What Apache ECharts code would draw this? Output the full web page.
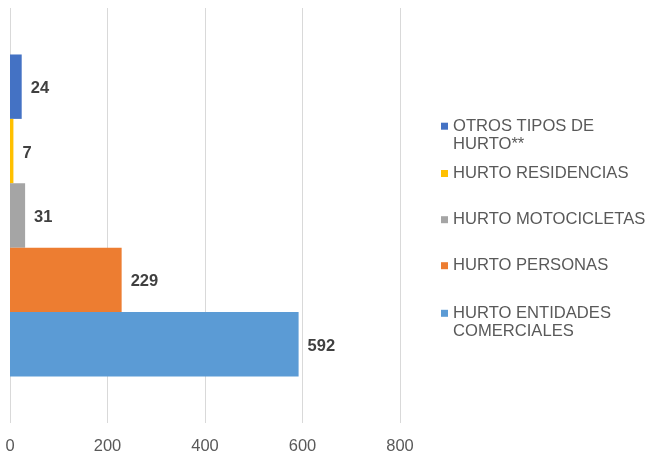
<!DOCTYPE html>
<html>
<head>
<meta charset="utf-8">
<style>
  html, body { margin: 0; padding: 0; background: #ffffff; }
  #chart { width: 647px; height: 456px; }
</style>
<script src="https://cdn.jsdelivr.net/npm/echarts@6/dist/echarts.min.js"></script>
</head>
<body>
<div id="chart"></div>
<script>
// Series names (legend order, top to bottom)
const seriesNames = [
  'OTROS TIPOS DE\nHURTO**',
  'HURTO RESIDENCIAS',
  'HURTO MOTOCICLETAS',
  'HURTO PERSONAS',
  'HURTO ENTIDADES\nCOMERCIALES'
];
const seriesValues = [24, 7, 31, 229, 592];
const seriesColors = ['#4472C4', '#FFC000', '#A5A5A5', '#ED7D31', '#5B9BD5'];
const xTicks = [0, 200, 400, 600, 800];
const legendTops = [99.2, 164.5, 210.7, 256.7, 286.3];

const FONT = 'Liberation Sans, Arial, sans-serif';
const chart = echarts.init(document.getElementById('chart'), null, { renderer: 'canvas' });

const series = seriesNames.map((name, i) => ({
  name: name,
  type: 'bar',
  data: [seriesValues[i]],
  barGap: 0,
  barCategoryGap: '22.4%',
  itemStyle: { color: seriesColors[i] },
  label: {
    show: true,
    position: 'right',
    distance: 9,
    offset: [0, 2],
    color: '#404040',
    fontWeight: 'bold',
    fontSize: 16.5,
    fontFamily: FONT
  }
}));

const legends = seriesNames.map((name, i) => {
  const twoLine = name.indexOf('\n') >= 0;
  return {
    data: [name],
    orient: 'vertical',
    left: 441,
    top: legendTops[i],
    padding: 0,
    itemWidth: 7,
    itemHeight: 7,
    icon: 'rect',
    selectedMode: false,
    formatter: function (n) { return twoLine ? '\n' + n : n; },
    textStyle: {
      color: '#595959',
      fontSize: 16.6,
      lineHeight: 18,
      fontFamily: FONT
    }
  };
});

chart.setOption({
  animation: false,
  backgroundColor: '#ffffff',
  grid: { left: 10, right: 247, top: 8, bottom: 33, containLabel: false },
  legend: legends,
  xAxis: {
    type: 'value',
    min: xTicks[0],
    max: xTicks[xTicks.length - 1],
    interval: xTicks[1] - xTicks[0],
    axisLine: { show: false },
    axisTick: { show: false },
    axisLabel: {
      color: '#595959',
      fontSize: 16.5,
      margin: 15,
      fontFamily: FONT
    },
    splitLine: { show: true, lineStyle: { color: '#D9D9D9', width: 1 } }
  },
  yAxis: {
    type: 'category',
    data: [''],
    inverse: true,
    axisLine: { show: false },
    axisTick: { show: false },
    axisLabel: { show: false },
    splitLine: { show: false }
  },
  series: series
});
</script>
</body>
</html>
